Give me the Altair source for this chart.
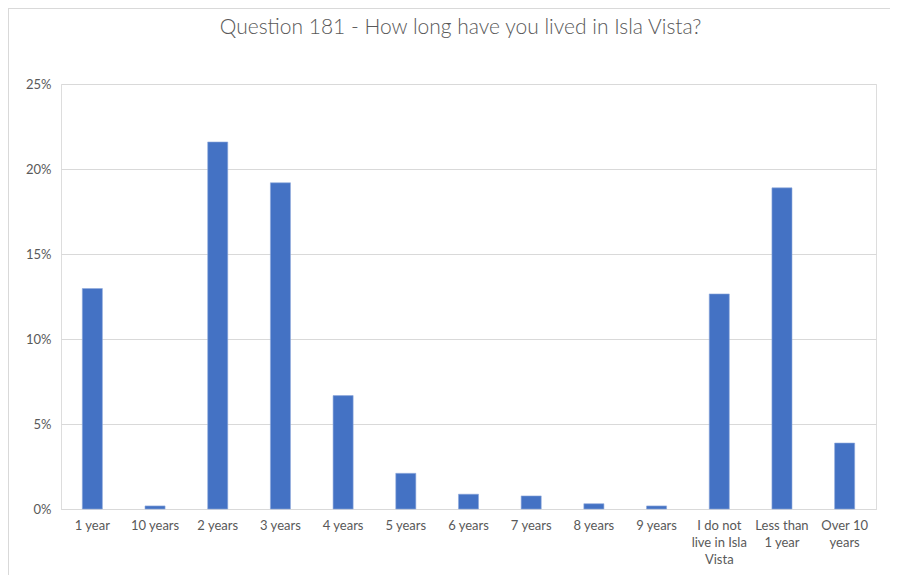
import altair as alt
import pandas as pd

categories = ["1 year", "10 years", "2 years", "3 years", "4 years", "5 years",
              "6 years", "7 years", "8 years", "9 years",
              "I do not live in Isla Vista", "Less than 1 year", "Over 10 years"]
values = [0.1297, 0.0018, 0.2159, 0.1919, 0.0667, 0.0210,
          0.0087, 0.0077, 0.0031, 0.0018,
          0.1265, 0.1889, 0.0388]
title_text = "Question 181 - How long have you lived in Isla Vista?"
y_ticks = [0, 0.05, 0.10, 0.15, 0.20, 0.25]

df = pd.DataFrame({"category": categories, "value": values})

label_expr = (
    "datum.label == 'I do not live in Isla Vista' ? ['I do not', 'live in Isla', 'Vista'] : "
    "datum.label == 'Less than 1 year' ? ['Less than', '1 year'] : "
    "datum.label == 'Over 10 years' ? ['Over 10', 'years'] : datum.label"
)

W, H = 815, 425
FONT = "Lato"
GRAY = "#595959"
one = pd.DataFrame({"a": [0]})

frame_left = alt.Chart(one).mark_rule(color="#d9d9d9", strokeWidth=1).encode(
    x=alt.value(-52.5), y=alt.value(-76), y2=alt.value(H + 200),
)
frame_top = alt.Chart(one).mark_rule(color="#d9d9d9", strokeWidth=1).encode(
    x=alt.value(-53), x2=alt.value(W + 200), y=alt.value(-75.5),
)

title = alt.Chart(pd.DataFrame({"t": [title_text]})).mark_text(
    font=FONT, fontSize=21, fontWeight=300, color=GRAY, align="center", baseline="middle"
).encode(
    text="t:N", x=alt.value(W / 2 - 8), y=alt.value(-56),
)

bars = alt.Chart(df).mark_bar(color="#4472C4", stroke="#8eaadb", strokeWidth=0.6).encode(
    x=alt.X("category:N", sort=categories,
            scale=alt.Scale(paddingInner=0.68, paddingOuter=0.34),
            axis=alt.Axis(title=None, labelAngle=0, labelExpr=label_expr,
                          labelFont=FONT, labelFontSize=13, labelColor=GRAY,
                          labelPadding=10, labelLineHeight=17,
                          ticks=False, domainColor="#d9d9d9", domainWidth=1,
                          labelBaseline="top")),
    y=alt.Y("value:Q", scale=alt.Scale(domain=[0, 0.25]),
            axis=alt.Axis(title=None, values=y_ticks, format=".0%",
                          labelFont=FONT, labelFontSize=13, labelColor=GRAY,
                          labelPadding=10, ticks=False, domain=False,
                          gridColor="#d9d9d9", gridWidth=1)),
)

chart = alt.layer(frame_left, frame_top, title, bars).properties(
    width=W, height=H,
    autosize=alt.AutoSizeParams(type="none"),
    padding={"left": 53, "top": 76, "right": 14, "bottom": 66},
).configure_view(strokeWidth=0).configure(background="white")

chart.save("out.html", embed_options={"renderer": "svg", "actions": False})
